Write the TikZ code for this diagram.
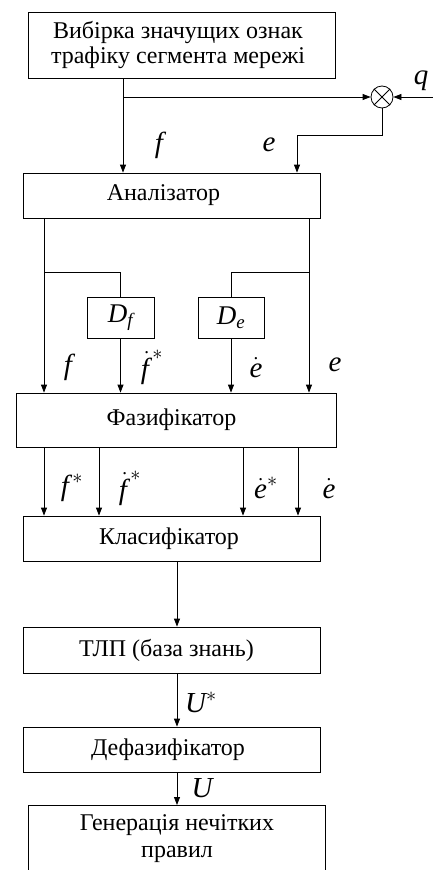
\documentclass[tikz,border=0pt]{standalone}
\usepackage{fix-cm}
\usepackage{amsmath}
\usepackage{fontspec}
\setmainfont{Liberation Serif}
\usetikzlibrary{arrows.meta}
\newcommand\vi[1]{\text{\itshape #1}}
\newcommand\sh[1]{\hspace*{#1pt}}
\begin{document}
\begin{tikzpicture}[x=1pt,y=-1pt,
  line width=0.8pt,
  box/.style={draw, rectangle, inner sep=0pt, font=\fontsize{24}{25}\selectfont},
  lbl/.style={inner sep=0pt, font=\fontsize{29}{30}\selectfont},
  arr/.style={-{Triangle[length=8pt,width=6pt]}}]
\useasboundingbox (0,0) rectangle (433,870);
% boxes
\node[box, minimum width=307, minimum height=66, align=center] (top) at (181.5,45) {Вибірка значущих ознак\sh{7}\\трафіку сегмента мережі\sh{7}};
\node[box, minimum width=297, minimum height=45] (an) at (171.5,195.5) {Аналізатор\sh{16}};
\node[box, minimum width=67, minimum height=41, font=\fontsize{27}{28}\selectfont] (df) at (120.5,317.5) {$\vi{D}_{\vi{f}}$};
\node[box, minimum width=66, minimum height=41, font=\fontsize{27}{28}\selectfont] (de) at (231,317.5) {$\vi{D}_{\vi{e}}$};
\node[box, minimum width=320, minimum height=54] (faz) at (176,420) {Фазифікатор\sh{9}};
\node[box, minimum width=297, minimum height=45] (kl) at (171.5,538.5) {Класифікатор\sh{5}};
\node[box, minimum width=297, minimum height=46] (tlp) at (171.5,650) {ТЛП (база знань)\sh{10}};
\node[box, minimum width=297, minimum height=45] (dfz) at (171.5,749.5) {Дефазифікатор\sh{7}};
\node[box, minimum width=297, minimum height=100, anchor=north] (gen) at (176.5,805) {};
\node[inner sep=0pt, align=center, font=\fontsize{24}{27}\selectfont] (gentxt) at (177,839) {Генерація нечітких\\правил};
% multiplier
\node[draw, circle, minimum size=22, inner sep=0pt] (m) at (382,97) {};
\draw (m.north west) -- (m.south east) (m.north east) -- (m.south west);
% coordinates
\coordinate (split) at (123,97);
\coordinate (qin) at (433,97);
\coordinate (ebend) at (297,135);
\coordinate (cL) at (44,272);
\coordinate (cR) at (309,272);
\coordinate (k1) at (44,480);
\coordinate (k2) at (99,480);
\coordinate (k3) at (243,480);
\coordinate (k4) at (298,480);
\coordinate (ax) at (177,600);
% top connections
\draw[arr] (top.south -| split) -- (an.north -| split);
\draw[arr] (split) -- (m.west);
\draw[arr] (qin) -- (m.east);
\draw[arr] (m.south) |- (ebend) -- (an.north -| ebend);
% analyzer to fazifier
\draw[arr] (an.south -| cL) -- (faz.north -| cL);
\draw (cL) -| (df.north);
\draw[arr] (df.south) -- (faz.north -| df.south);
\draw[arr] (an.south -| cR) -- (faz.north -| cR);
\draw (cR) -| (de.north);
\draw[arr] (de.south) -- (faz.north -| de.south);
% fazifier to classifier
\draw[arr] (faz.south -| k1) -- (kl.north -| k1);
\draw[arr] (faz.south -| k2) -- (kl.north -| k2);
\draw[arr] (faz.south -| k3) -- (kl.north -| k3);
\draw[arr] (faz.south -| k4) -- (kl.north -| k4);
% lower chain
\draw[arr] (kl.south -| ax) -- (tlp.north -| ax);
\draw[arr] (tlp.south -| ax) -- (dfz.north -| ax);
\draw[arr] (dfz.south -| ax) -- (gen.north -| ax);
% labels
\node[lbl] (lq) at (421,81) {$\vi{q}$};
\node[lbl] (lf1) at (159,145) {$\vi{f}$};
\node[lbl] (le1) at (269,145) {$\vi{e}$};
\node[lbl] (lf2) at (68,367) {$\vi{f}$};
\node[lbl] (lfd) at (152,367) {$\dot{\vi{f\/}}^{*}$};
\node[lbl] (led) at (256,368) {$\dot{\vi{e}}$};
\node[lbl] (le2) at (335,365) {$\vi{e}$};
\node[lbl] (lfs) at (72,488) {$\vi{f\/}^{*}$};
\node[lbl] (lfds) at (130,488) {$\dot{\vi{f\/}}^{*}$};
\node[lbl] (leds) at (266,488) {$\dot{\vi{e}}^{*}$};
\node[lbl] (led2) at (329,489) {$\dot{\vi{e}}$};
\node[lbl] (lus) at (201,702) {$\vi{U}^{*}$};
\node[lbl] (lu) at (202,788) {$\vi{U}$};
\end{tikzpicture}
\end{document}
